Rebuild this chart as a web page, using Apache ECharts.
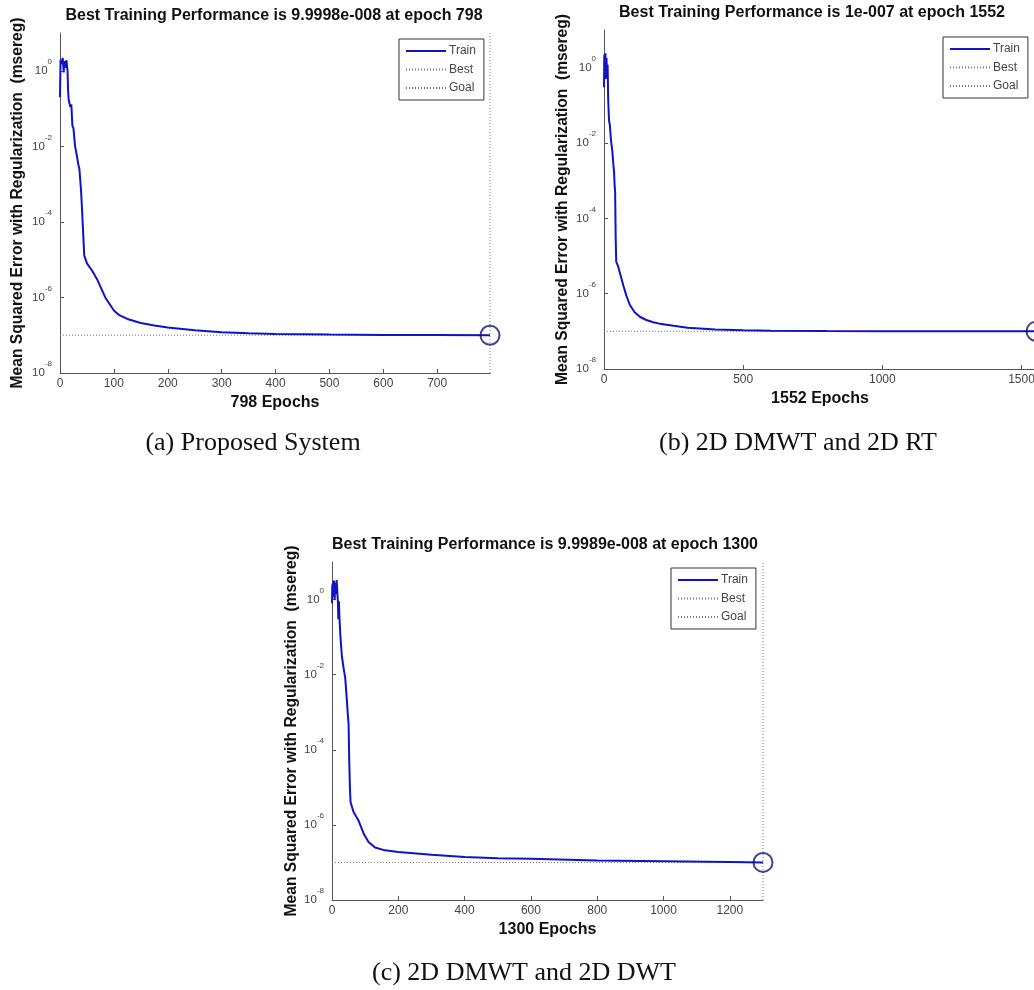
<!DOCTYPE html>
<html>
<head>
<meta charset="utf-8">
<title>Training performance</title>
<script src="https://cdn.jsdelivr.net/npm/echarts/dist/echarts.min.js"></script>
<style>
  html, body { margin: 0; padding: 0; background: #fff; }
  #main { width: 1034px; height: 990px; }
</style>
</head>
<body>
<div id="main"></div>
<script>
// (a) Proposed System
const epochsA = [0,1,3,5,7,8,10,12,14,15,16,18,19,21,23,25,28,31,34,36,39,41,42,45,50,60,70,84,100,110,125,150,175,200,250,300,350,400,500,600,700,798];
const perfA = [0.2,2.0,1.5,2.2,0.9,1.8,1.2,1.9,1.0,0.3,0.18,0.2,0.11,0.13,0.035,0.03,0.01,0.006,0.0033,0.0025,0.0007,0.0002,0.0001,1.3e-5,8e-6,5e-6,2.8e-6,1e-6,4.5e-7,3.4e-7,2.7e-7,2.1e-7,1.8e-7,1.6e-7,1.35e-7,1.2e-7,1.13e-7,1.08e-7,1.04e-7,1.02e-7,1.01e-7,9.9998e-8];

// (b) 2D DMWT and 2D RT
const epochsB = [0,1,3,5,7,9,11,13,15,18,21,25,30,34,36,38,40,42,44,50,60,70,80,93,110,130,152,177,200,250,300,400,500,600,800,1000,1200,1552];
const perfB = [0.3,2.2,1.6,2.4,0.5,1.8,0.6,1.2,0.15,0.04,0.03,0.012,0.006,0.0025,0.0018,0.0008,0.0005,3e-5,7e-6,5.5e-6,3e-6,1.6e-6,9e-7,5e-7,3.2e-7,2.4e-7,2e-7,1.75e-7,1.6e-7,1.4e-7,1.25e-7,1.12e-7,1.07e-7,1.04e-7,1.02e-7,1.01e-7,1.005e-7,1e-7];

// (c) 2D DMWT and 2D DWT
const epochsC = [0,1,2,3,5,6,8,10,12,14,17,18,19,21,22,25,28,30,35,40,45,48,50,52,54,56,65,80,95,110,130,160,200,300,400,500,600,800,1000,1200,1300];
const perfC = [0.8,2.5,1.2,3.0,1.5,3.2,1.0,2.8,1.4,3.3,3.4,0.8,0.3,0.9,0.4,0.12,0.05,0.03,0.015,0.008,0.002,0.0008,0.0005,5e-5,1e-5,4e-6,2.2e-6,1.3e-6,6e-7,3.5e-7,2.5e-7,2.1e-7,1.9e-7,1.6e-7,1.4e-7,1.3e-7,1.25e-7,1.12e-7,1.07e-7,1.03e-7,9.9989e-8];

const bestEpochs = [798, 1552, 1300];
const bestPerf = [9.9998e-8, 1e-7, 9.9989e-8];
const goal = 1e-7;

// tick values
const xTicksA = [0, 100, 200, 300, 400, 500, 600, 700];
const xTicksB = [0, 500, 1000, 1500];
const xTicksC = [0, 200, 400, 600, 800, 1000, 1200];
const yTicks = [1e-8, 1e-6, 1e-4, 1e-2, 1];

const titles = [
  'Best Training Performance is 9.9998e-008 at epoch 798',
  'Best Training Performance is 1e-007 at epoch 1552',
  'Best Training Performance is 9.9989e-008 at epoch 1300'
];
const xNames = ['798 Epochs', '1552 Epochs', '1300 Epochs'];
const captions = ['(a) Proposed System', '(b) 2D DMWT and 2D RT', '(c) 2D DMWT and 2D DWT'];
const yName = 'Mean Squared Error with Regularization  (msereg)';

const epochs = [epochsA, epochsB, epochsC];
const perf = [perfA, perfB, perfC];
const xTicks = [xTicksA, xTicksB, xTicksC];

// panel boxes in px
const grids = [
  {left: 60, top: 33, width: 430, height: 340},
  {left: 604, top: 30, width: 432, height: 339},
  {left: 332, top: 562, width: 431, height: 338}
];
const legendPos = [{left: 399, top: 39}, {left: 943, top: 37}, {left: 671, top: 568}];
const titlePos = [{x: 274, y: 8}, {x: 812, y: 5}, {x: 545, y: 537}];
const captionPos = [{x: 253, y: 430}, {x: 798, y: 430}, {x: 524, y: 960}];
const yNameGap = [34, 33, 32];

const trainColor = '#1212c4';
const dotColor = '#7a7a7a';
const axisColor = '#555';
const font = 'Liberation Sans, Arial, sans-serif';

const chartDom = document.getElementById('main');
const myChart = echarts.init(chartDom);

let xAxis = [], yAxis = [], series = [], title = [], legend = [];
for (let i = 0; i < 3; i++) {
  xAxis.push({
    type: 'value', gridIndex: i, min: 0, max: bestEpochs[i],
    name: xNames[i], nameLocation: 'middle', nameGap: 22,
    nameTextStyle: {fontFamily: font, fontWeight: 'bold', fontSize: 16, color: '#111'},
    axisLine: {show: true, onZero: false, lineStyle: {color: axisColor, width: 1}},
    axisTick: {show: true, inside: true, length: 4, lineStyle: {color: axisColor}, customValues: xTicks[i]},
    axisLabel: {
      margin: 5, fontFamily: font, fontSize: 12, color: '#444', customValues: xTicks[i],
      formatter: v => String(v)
    },
    splitLine: {show: false}
  });
  yAxis.push({
    type: 'log', logBase: 10, gridIndex: i, min: 1e-8, max: 10,
    name: yName, nameLocation: 'middle', nameGap: yNameGap[i], nameRotate: 90,
    nameTextStyle: {fontFamily: font, fontWeight: 'bold', fontSize: 15.6, color: '#111'},
    axisLine: {show: true, lineStyle: {color: axisColor, width: 1}},
    axisTick: {show: true, inside: true, length: 4, lineStyle: {color: axisColor}, customValues: yTicks},
    axisLabel: {
      margin: 8, fontFamily: font, fontSize: 11, color: '#444', customValues: yTicks,
      formatter: v => '{b|10}{s|' + Math.round(Math.log10(v)) + '}',
      rich: {
        b: {fontFamily: font, fontSize: 11.5, color: '#444', lineHeight: 26},
        s: {fontFamily: font, fontSize: 8, color: '#444', verticalAlign: 'top', lineHeight: 10}
      }
    },
    splitLine: {show: false}
  });

  series.push({
    name: 'Goal', type: 'line', xAxisIndex: i, yAxisIndex: i, symbol: 'none',
    lineStyle: {color: dotColor, width: 1, type: [1, 2]}, itemStyle: {color: dotColor},
    data: [[0, goal], [bestEpochs[i], goal]], z: 2, silent: true
  });
  series.push({
    name: 'Best', type: 'line', xAxisIndex: i, yAxisIndex: i, symbol: 'none',
    lineStyle: {color: dotColor, width: 1, type: [1, 2]}, itemStyle: {color: dotColor},
    data: [[bestEpochs[i], 1e-8], [bestEpochs[i], 10]], z: 2, silent: true
  });
  series.push({
    name: 'Train', type: 'line', xAxisIndex: i, yAxisIndex: i, symbol: 'none',
    lineStyle: {color: trainColor, width: 2}, itemStyle: {color: trainColor},
    data: epochs[i].map((e, k) => [e, perf[i][k]]), z: 3
  });
  series.push({
    name: 'bestPoint', type: 'scatter', xAxisIndex: i, yAxisIndex: i,
    symbol: 'circle', symbolSize: 19,
    itemStyle: {color: 'rgba(0,0,0,0)', borderColor: '#10107a', borderWidth: 2},
    data: [[bestEpochs[i], bestPerf[i]]], z: 4, clip: false
  });

  title.push({
    text: titles[i], left: titlePos[i].x, top: titlePos[i].y, textAlign: 'center', padding: 0,
    textStyle: {fontFamily: font, fontWeight: 'bold', fontSize: 16, color: '#111'}
  });
  title.push({
    text: captions[i], left: captionPos[i].x, top: captionPos[i].y, textAlign: 'center', padding: 0,
    textStyle: {fontFamily: 'Liberation Serif, Times New Roman, serif', fontWeight: 'normal', fontSize: 26, color: '#111'}
  });

  legend.push({
    data: ['Train', 'Best', 'Goal'], orient: 'vertical',
    left: legendPos[i].left, top: legendPos[i].top,
    backgroundColor: '#fff', borderColor: '#333', borderWidth: 1, borderRadius: 0,
    padding: [6, 8, 6, 6], itemWidth: 40, itemHeight: 12, itemGap: 6.5,
    selectedMode: false,
    itemStyle: {opacity: 0, color: 'rgba(0,0,0,0)', borderWidth: 0},
    textStyle: {fontFamily: font, fontSize: 12, color: '#444', padding: [0, 0, 0, -2]}
  });
}

const option = {
  backgroundColor: '#fff',
  animation: false,
  title: title,
  legend: legend,
  grid: grids.map(g => Object.assign({containLabel: false, outerBoundsMode: 'none'}, g)),
  xAxis: xAxis,
  yAxis: yAxis,
  series: series
};

option && myChart.setOption(option);
</script>
</body>
</html>
